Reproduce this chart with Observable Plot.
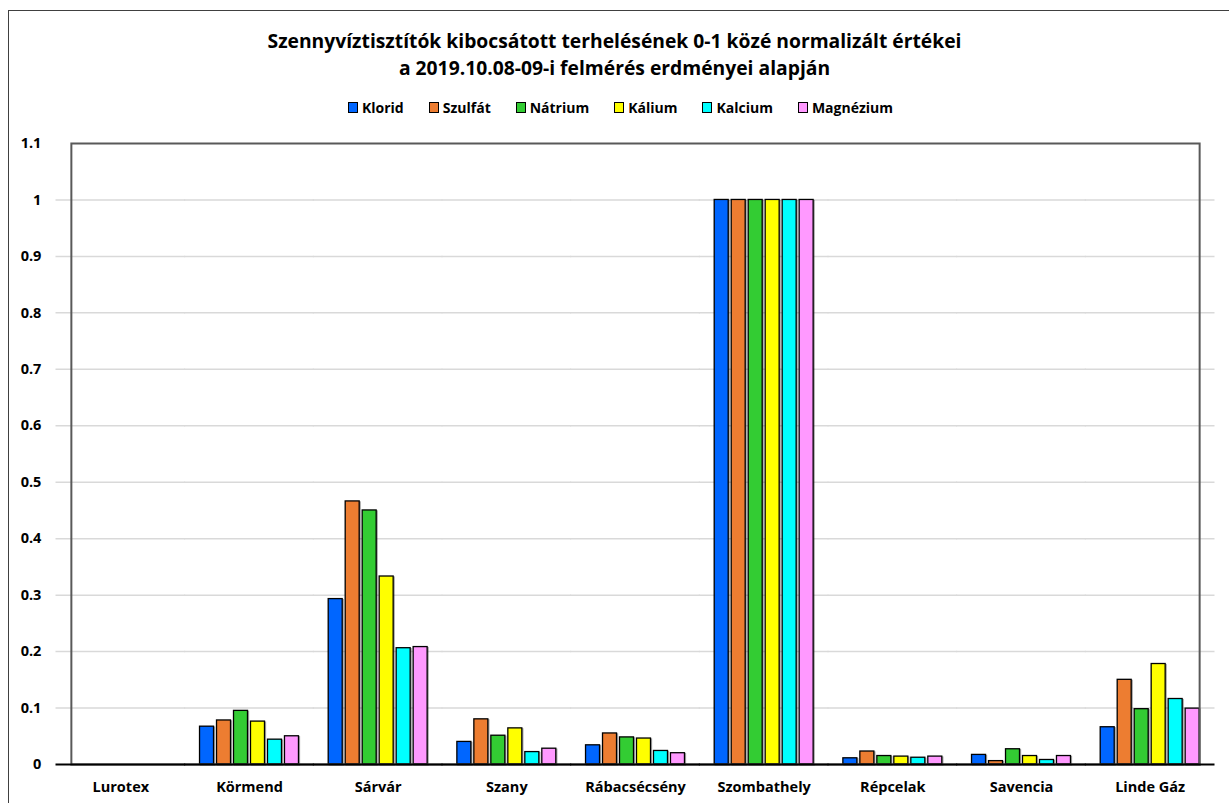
<!DOCTYPE html>
<html><head><meta charset="utf-8">
<script src="https://cdn.jsdelivr.net/npm/d3@7"></script>
<script src="https://cdn.jsdelivr.net/npm/@observablehq/plot@0.6"></script>
<style>
html,body{margin:0;padding:0;background:#fff;}
body{width:1229px;height:803px;position:relative;overflow:hidden;font-family:"Open Sans",sans-serif;}
#border{position:absolute;left:8px;top:10px;width:1300px;height:900px;border-left:1.5px solid #404040;border-top:1.5px solid #404040;}
#title{position:absolute;left:0;width:1229px;top:27px;text-align:center;font-weight:bold;font-size:19.3px;line-height:27px;color:#000;}
#legend{position:absolute;left:6px;width:1229px;top:98px;text-align:center;font-weight:bold;font-size:14px;color:#000;}
#legend span.item{display:inline-block;margin:0 12.5px;}
#legend span.sw{display:inline-block;width:8px;height:9px;border:1px solid #000;margin-right:4px;vertical-align:0px;}
#chart{position:absolute;left:0;top:0;}
.bars rect{filter:drop-shadow(1px 1px 0.6px rgba(0,0,0,0.35));}
</style></head>
<body>
<div id="border"></div>
<div id="title">Szennyvíztisztítók kibocsátott terhelésének 0-1 közé normalizált értékei<br>a 2019.10.08-09-i felmérés erdményei alapján</div>
<div id="legend"></div>
<div id="chart"></div>
<script>
const categories = ["Lurotex","Körmend","Sárvár","Szany","Rábacsécsény","Szombathely","Répcelak","Savencia","Linde Gáz"];
const series = ["Klorid","Szulfát","Nátrium","Kálium","Kalcium","Magnézium"];
const colors = ["#0066ff","#ed7d31","#33cc33","#ffff00","#00ffff","#ff99ff"];
const klorid    = [0, 0.067, 0.293, 0.040, 0.034, 1, 0.011, 0.017, 0.066];
const szulfat   = [0, 0.078, 0.466, 0.080, 0.055, 1, 0.023, 0.006, 0.150];
const natrium   = [0, 0.095, 0.450, 0.051, 0.048, 1, 0.015, 0.027, 0.098];
const kalium    = [0, 0.076, 0.333, 0.064, 0.046, 1, 0.014, 0.015, 0.178];
const kalcium   = [0, 0.044, 0.206, 0.022, 0.024, 1, 0.012, 0.008, 0.116];
const magnezium = [0, 0.050, 0.208, 0.028, 0.020, 1, 0.014, 0.015, 0.099];
const yTicks = [0,0.1,0.2,0.3,0.4,0.5,0.6,0.7,0.8,0.9,1,1.1];

const valuesBySeries = [klorid, szulfat, natrium, kalium, kalcium, magnezium];
const data = [];
categories.forEach((c, i) => series.forEach((s, j) => data.push({cat: c, series: s, value: valuesBySeries[j][i]})));

const legend = document.getElementById("legend");
series.forEach((s, j) => {
  const it = document.createElement("span"); it.className = "item";
  const sw = document.createElement("span"); sw.className = "sw"; sw.style.background = colors[j];
  it.appendChild(sw); it.appendChild(document.createTextNode(s)); legend.appendChild(it);
});

const W = 1229, ML = 56, MR = 15;
const pIn = 0.231, pOut = pIn / 2;
const step = (W - ML - MR) / categories.length;
const halfGap = step * pIn / 2 + 0.5;

const fmt = d => String(+d.toFixed(1));
const chart = Plot.plot({
  width: W, height: 803,
  marginLeft: ML, marginRight: MR, marginTop: 143, marginBottom: 39,
  style: {fontFamily: '"Open Sans",sans-serif', fontWeight: "bold", fontSize: "14.5px", color: "#000", background: "transparent"},
  fx: {domain: categories, paddingInner: pIn, paddingOuter: pOut, round: false, label: null, axis: "bottom", tickSize: 0, tickPadding: 17},
  x: {domain: series, paddingInner: 0.176, paddingOuter: 0, round: false, axis: null},
  y: {domain: [0, 1.1], ticks: yTicks, tickFormat: fmt, tickSize: 0, tickPadding: 30, label: null, grid: false},
  color: {domain: series, range: colors},
  marks: [
    Plot.ruleY(yTicks.filter(t => t > 0 && t < 1.1), {stroke: "#d9d9d9", strokeWidth: 1.5, insetLeft: -halfGap, insetRight: -halfGap}),
    Plot.barY(data, {fx: "cat", x: "series", y: "value", fill: "series", stroke: "#000", strokeWidth: 1.3, className: "bars"}),
    Plot.frame({stroke: "#595959", strokeWidth: 2, facet: "super"}),
    Plot.ruleY([0], {stroke: "#000", strokeWidth: 2, insetLeft: -halfGap, insetRight: -halfGap})
  ]
});
document.getElementById("chart").appendChild(chart);
</script>
</body></html>
